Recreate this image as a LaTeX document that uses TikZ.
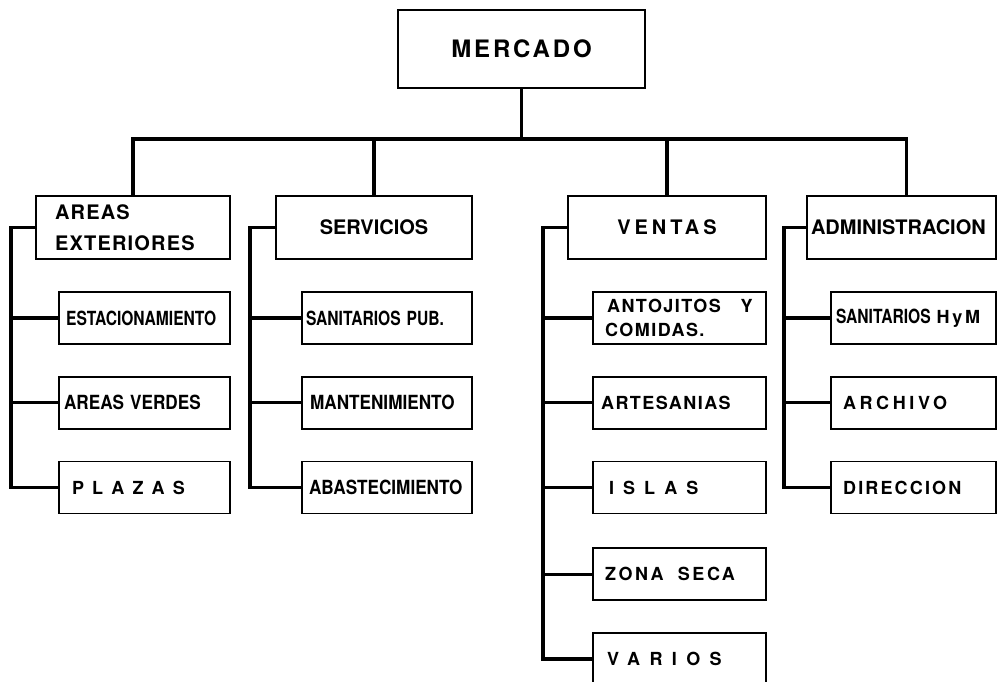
\documentclass[tikz,border=0pt]{standalone}
\usepackage{fontspec}
\setmainfont{TeX Gyre Heros}
\newfontfamily\narrowfont{TeX Gyre Heros}[FakeStretch=0.88]
\newfontfamily\tightfont{TeX Gyre Heros}[FakeStretch=0.80]
\usepackage{tikz}
\usetikzlibrary{positioning}
\newcommand\tracked[2]{{\addfontfeature{LetterSpace=#1}#2}}
\newcommand\narrowtext{\narrowfont\fontsize{19.5}{24}\selectfont}
\newcommand\tighttext{\tightfont\fontsize{19.5}{24}\selectfont}

\begin{document}
\begin{tikzpicture}[
  x=1pt, y=-1pt,
  node distance=31pt,
  head/.style={draw, line width=2pt, minimum width=247pt, minimum height=78pt,
    font=\bfseries\fontsize{24}{28}\selectfont},
  area/.style={draw, line width=2pt, minimum height=63pt, inner xsep=6pt,
    font=\bfseries\fontsize{20}{31}\selectfont},
  item/.style={draw, line width=1.8pt, minimum height=52pt, inner xsep=4pt,
    text width=#1, align=left, font=\bfseries\fontsize{18}{24}\selectfont},
  link/.style={line width=3.5pt}
]
\useasboundingbox (0,0) rectangle (997,681);

\node[head] (mercado) at (521.5,49) {\tracked{12}{MERCADO}};
\node[area, text width=156pt, inner xsep=19pt, align=left] (areas) at (133,227.5)
  {\addfontfeature{LetterSpace=6}AREAS\\\addfontfeature{LetterSpace=6}EXTERIORES};
\node[area, minimum width=196pt] (servicios) at (374,227.5) {SERVICIOS};
\node[area, minimum width=198pt] (ventas) at (667,227.5) {\tracked{20}{VENTAS}};
\node[area, text width=181pt, inner xsep=4pt, align=left] (admin) at (901.5,227.5) {ADMINISTRACION};

% areas exteriores
\node[item=163pt, below=31pt of areas.south east, anchor=north east] (estac) {\hspace*{3pt}\tighttext ESTACIONAMIENTO};
\node[item=163pt, below=of estac] (verdes) {\hspace*{1pt}\narrowtext AREAS VERDES};
\node[item=163pt, below=of verdes] (plazas) {\hspace*{9pt}\tracked{45}{PLAZAS}};

% servicios
\node[item=162pt, below=31pt of servicios.south east, anchor=north east] (sanpub) {\tighttext SANITARIOS PUB.};
\node[item=162pt, below=of sanpub] (manten) {\hspace*{4pt}\narrowtext MANTENIMIENTO};
\node[item=162pt, below=of manten] (abast) {\hspace*{3pt}\narrowtext ABASTECIMIENTO};

% ventas
\node[item=165pt, below=31pt of ventas.south east, anchor=north east] (antojitos)
  {\hspace*{10pt}\addfontfeature{LetterSpace=8}ANTOJITOS\hspace{1.1em}Y\\\hspace*{8pt}\addfontfeature{LetterSpace=8}COMIDAS.};
\node[item=165pt, below=of antojitos] (artes) {\hspace*{4pt}\tracked{8}{ARTESANIAS}};
\node[item=165pt, below=of artes] (islas) {\hspace*{12pt}\tracked{50}{ISLAS}};
\node[item=165pt, below=33pt of islas] (zona) {\hspace*{8pt}\tracked{14}{ZONA}\hspace{0.8em}\tracked{14}{SECA}};
\node[item=165pt, below=of zona] (varios) {\hspace*{10pt}\tracked{52}{VARIOS}};

% administracion
\node[item=157pt, below=31pt of admin.south east, anchor=north east] (sanhym) {\hspace*{1pt}{\tighttext SANITARIOS} \tracked{15}{HyM}};
\node[item=157pt, below=of sanhym] (archivo) {\hspace*{8pt}\tracked{20}{ARCHIVO}};
\node[item=157pt, below=of archivo] (direccion) {\hspace*{8pt}\tracked{12}{DIRECCION}};

% tronco principal
\coordinate (bar) at (521.5,139);
\draw[link] (mercado) -- (bar);
\draw[link] (areas.north) |- (bar) -| ([xshift=5pt]admin.north);
\draw[link] (servicios.north) -- (servicios.north |- bar);
\draw[link] (ventas.north) -- (ventas.north |- bar);

% ramas laterales
\draw[link] (areas.west) -- ++(-24,0) coordinate (sa) |- (plazas.west);
\foreach \c in {estac,verdes} \draw[link] (\c.west) -- (\c.west -| sa);
\draw[link] (servicios.west) -- ++(-25,0) coordinate (ss) |- (abast.west);
\foreach \c in {sanpub,manten} \draw[link] (\c.west) -- (\c.west -| ss);
\draw[link] (ventas.west) -- ++(-24,0) coordinate (sv) |- (varios.west);
\foreach \c in {antojitos,artes,islas,zona} \draw[link] (\c.west) -- (\c.west -| sv);
\draw[link] (admin.west) -- ++(-22,0) coordinate (sd) |- (direccion.west);
\foreach \c in {sanhym,archivo} \draw[link] (\c.west) -- (\c.west -| sd);
\end{tikzpicture}
\end{document}
